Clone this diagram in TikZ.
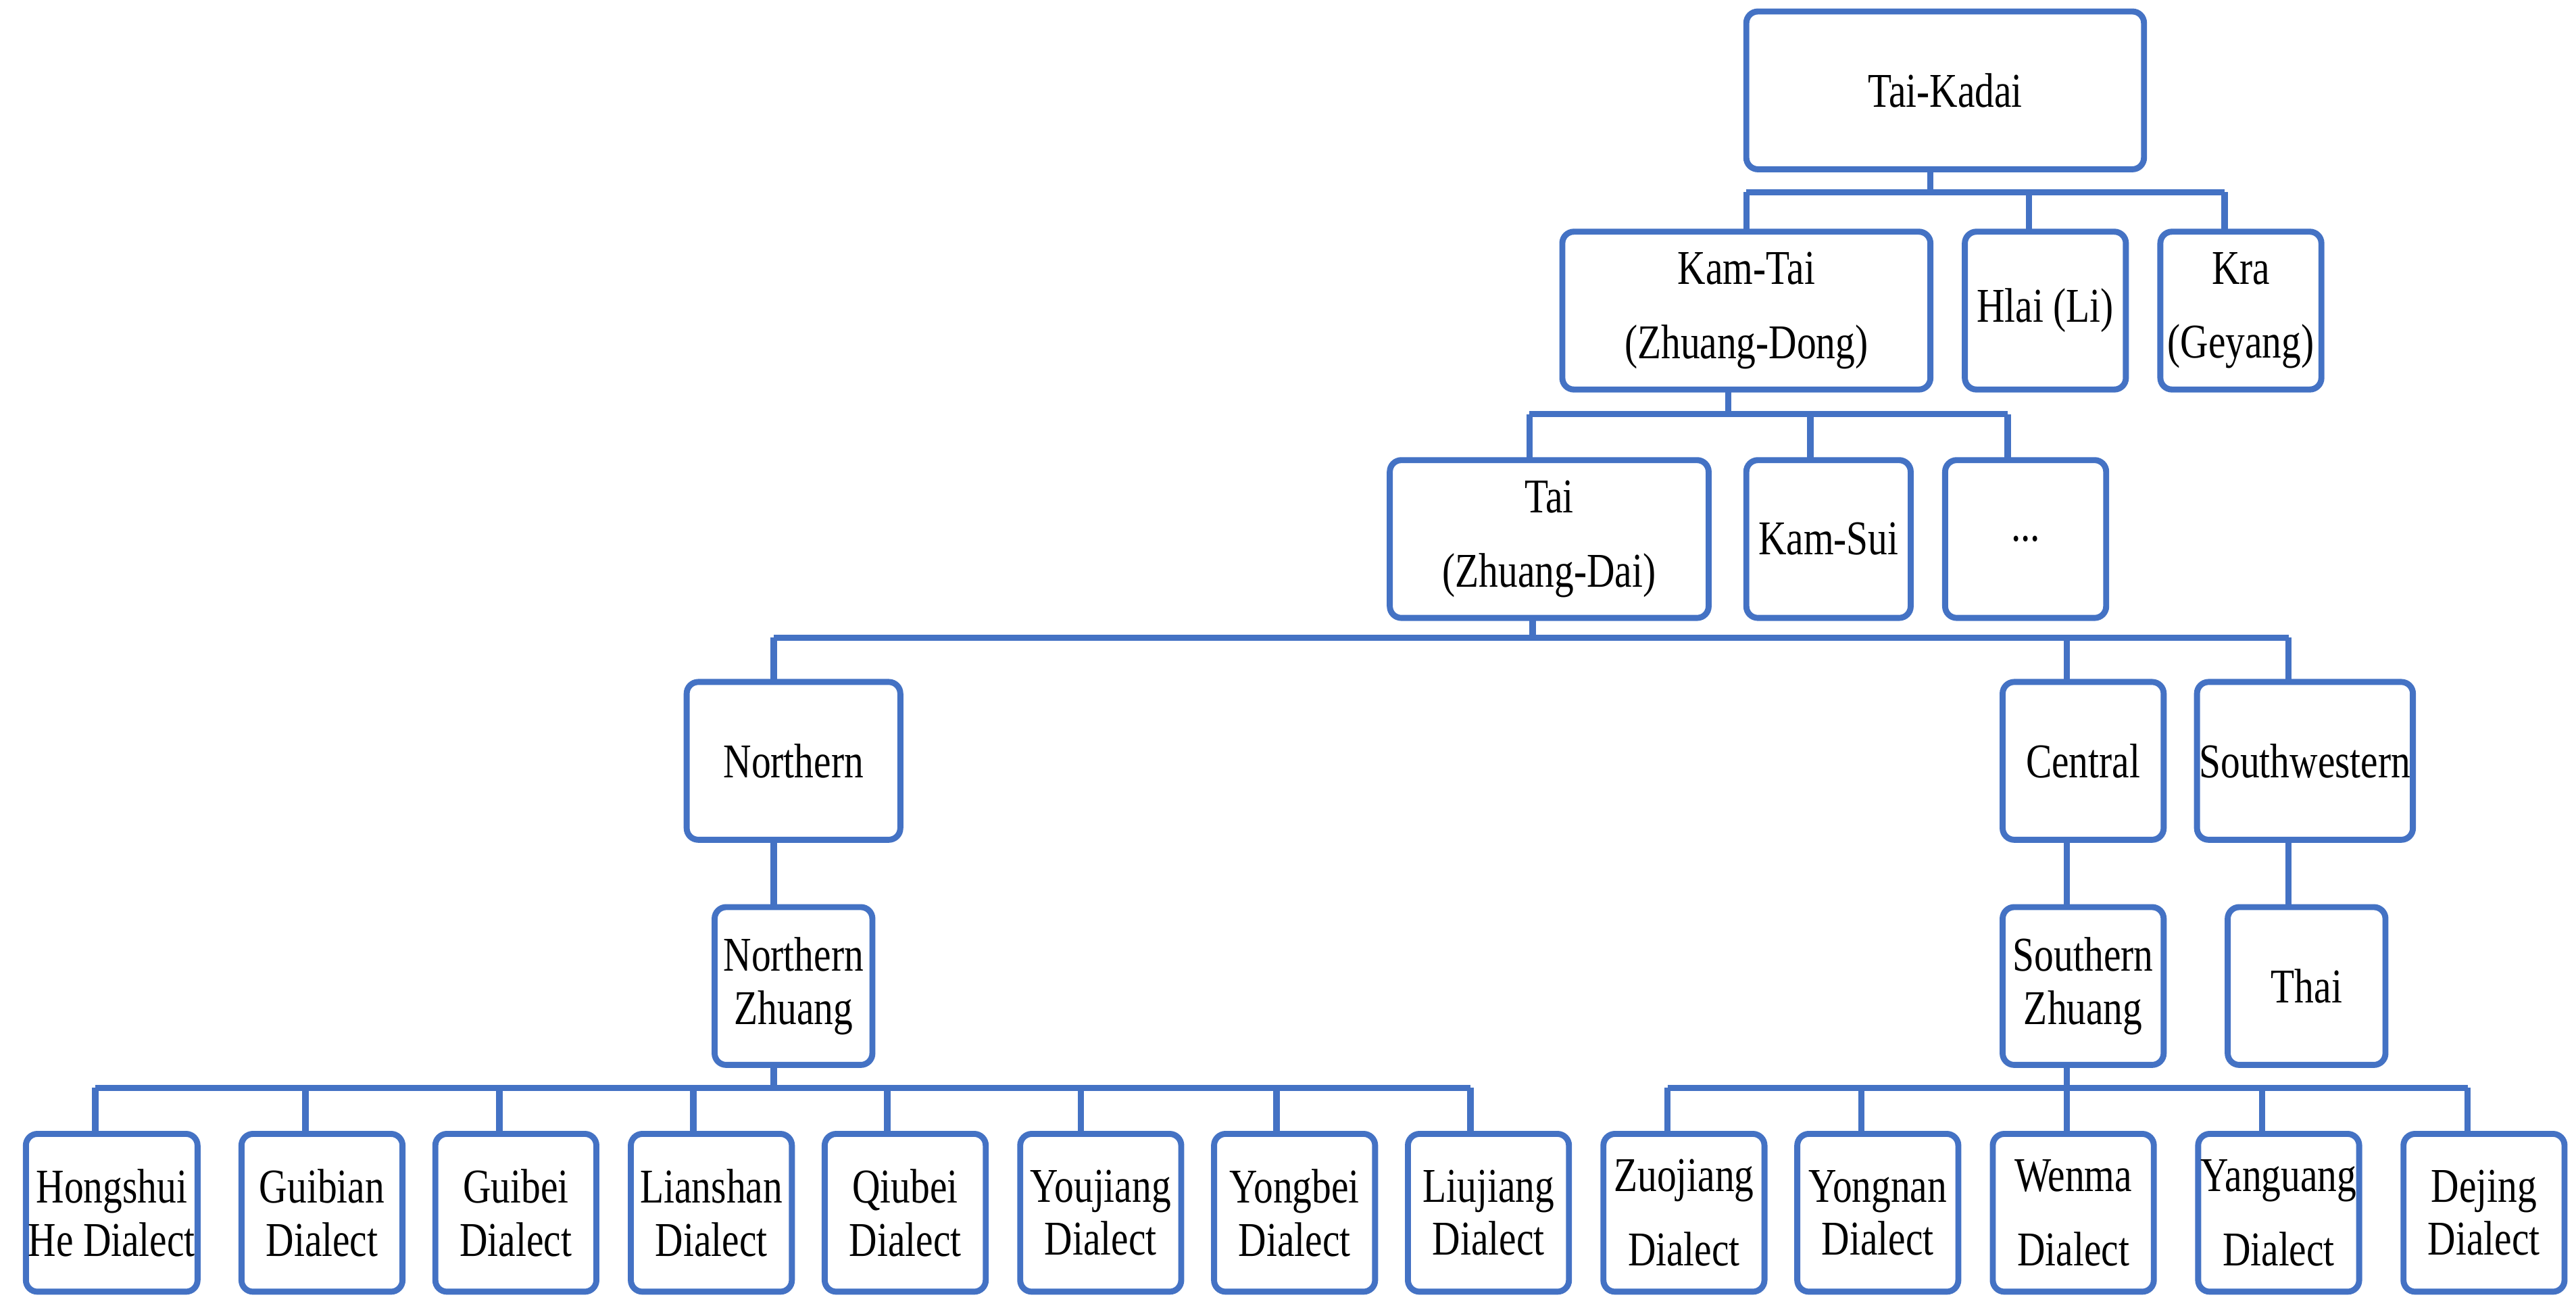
\documentclass[tikz,border=0pt]{standalone}
\usepackage{fontspec}
\setmainfont{Liberation Serif}[FakeStretch=0.8]
\begin{document}
\begin{tikzpicture}[x=0.025cm,y=-0.025cm]
\definecolor{tblue}{RGB}{68,114,196}
\tikzset{ box/.style={draw=tblue, line width=2.6pt, rounded corners=5pt, minimum height=2.4cm,
    align=center, inner sep=1pt, font=\fontsize{21}{23}\selectfont},
  leaf/.style={box, minimum width=2.45cm},
  loose/.style={font=\fontsize{21}{32}\selectfont},
  bus/.style={tblue, line width=2.8pt} }
\useasboundingbox (0,0) rectangle (1568,797);

% top levels
\node [box, minimum width=6.05cm] (TK) at (1184,55) {Tai-Kadai};
\node [box, loose, minimum width=5.6cm] (KT) at (1063,189) {Kam-Tai\\(Zhuang-Dong)};
\node [box, minimum width=2.45cm] (HL) at (1245,189) {Hlai (Li)};
\node [box, loose, minimum width=2.45cm] (KR) at (1364,189) {Kra\\(Geyang)};
\node [box, loose, minimum width=4.85cm] (TA) at (943,328) {Tai\\(Zhuang-Dai)};
\node [box, minimum width=2.5cm] (KS) at (1113,328) {Kam-Sui};
\node [box, minimum width=2.45cm] (DO) at (1233,328) {...};
\node [box, minimum width=3.25cm] (NO) at (483,463) {Northern};
\node [box, minimum width=2.45cm] (CE) at (1268,463) {Central};
\node [box, minimum width=3.25cm] (SW) at (1403,463) {Southwestern};
\node [box, minimum width=2.4cm] (NZ) at (483,600) {Northern\\Zhuang};
\node [box, minimum width=2.45cm] (SZ) at (1268,600) {Southern\\Zhuang};
\node [box, minimum width=2.4cm] (TH) at (1404,600) {Thai};

% leaves
\node [leaf] (L1) at (68,738) {Hongshui\\He Dialect};
\node [leaf] (L2) at (196,738) {Guibian\\Dialect};
\node [leaf] (L3) at (314,738) {Guibei\\Dialect};
\node [leaf] (L4) at (433,738) {Lianshan\\Dialect};
\node [leaf] (L5) at (551,738) {Qiubei\\Dialect};
\node [leaf] (L6) at (670,738) {Youjiang\\Dialect};
\node [leaf] (L7) at (788,738) {Yongbei\\Dialect};
\node [leaf] (L8) at (906,738) {Liujiang\\Dialect};
\node [leaf, loose] (R1) at (1025,738) {Zuojiang\\Dialect};
\node [leaf] (R2) at (1143,738) {Yongnan\\Dialect};
\node [leaf, loose] (R3) at (1262,738) {Wenma\\Dialect};
\node [leaf, loose] (R4) at (1387,738) {Yanguang\\Dialect};
\node [leaf] (R5) at (1512,738) {Dejing\\Dialect};

% buses
\draw [bus] (1175,103) -- (1175,117);
\draw [bus] (1063,117) -- (1354,117);
\foreach \x in {1063,1235,1354} \draw [bus] (\x,117) -- (\x,141);
\draw [bus] (1052,237) -- (1052,252);
\draw [bus] (931,252) -- (1222,252);
\foreach \x in {931,1102,1222} \draw [bus] (\x,252) -- (\x,281);
\draw [bus] (933,376) -- (933,388);
\draw [bus] (471,388) -- (1393,388);
\foreach \x in {471,1258,1393} \draw [bus] (\x,388) -- (\x,415);
\draw [bus] (471,511) -- (471,551);
\draw [bus] (1258,511) -- (1258,551);
\draw [bus] (1393,511) -- (1393,551);
\draw [bus] (471,648) -- (471,662);
\draw [bus] (58,662) -- (895,662);
\foreach \x in {58,186,304,422,540,658,777,895} \draw [bus] (\x,662) -- (\x,690);
\draw [bus] (1258,648) -- (1258,662);
\draw [bus] (1015,662) -- (1502,662);
\foreach \x in {1015,1133,1258,1377,1502} \draw [bus] (\x,662) -- (\x,690);
\end{tikzpicture}
\end{document}
